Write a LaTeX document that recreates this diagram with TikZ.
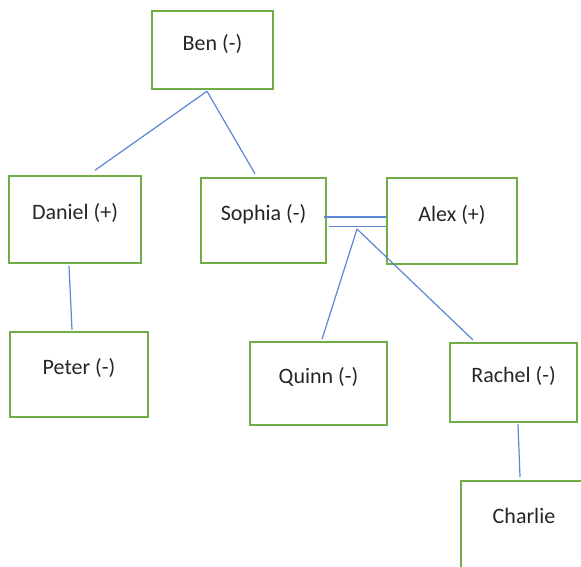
\documentclass[tikz,border=0pt]{standalone}
\usepackage{fontspec}
\setmainfont{Carlito}
\definecolor{boxgreen}{HTML}{70AD47}
\definecolor{linkblue}{HTML}{5A86D3}
\definecolor{txt}{HTML}{262626}
\begin{document}
\begin{tikzpicture}[x=1pt,y=-1pt,
  person/.style={draw=boxgreen, line width=2.5pt, rectangle, inner sep=0pt,
    text=txt, font=\fontsize{22}{26}\selectfont, text height=12pt, text depth=12pt},
  link/.style={draw=linkblue, line width=1.2pt}]
\useasboundingbox (0,0) rectangle (581,566);
\clip (0,0) rectangle (581,566);
\node[person, minimum width=121pt, minimum height=78pt] (ben) at (212.5,50) {Ben (-)};
\node[person, minimum width=132pt, minimum height=87pt] (daniel) at (75,219.5) {Daniel (+)};
\node[person, minimum width=125pt, minimum height=85pt] (sophia) at (263.5,220.5) {Sophia (-)};
\node[person, minimum width=130pt, minimum height=86pt] (alex) at (452,221) {Alex (+)};
\node[person, minimum width=138pt, minimum height=85pt] (peter) at (79,374.5) {Peter (-)};
\node[person, minimum width=137pt, minimum height=83pt] (quinn) at (318.5,383.5) {Quinn (-)};
\node[person, minimum width=127pt, minimum height=79pt] (rachel) at (513.5,382.5) {Rachel (-)};
\node[person, minimum width=126pt, minimum height=100pt, text depth=28pt] (charlie) at (524,531) {Charlie};
\coordinate (kids) at (357,229);
\draw[link] ([xshift=-5.5pt,yshift=-1pt]ben.south) -- ([xshift=20pt,yshift=4.5pt]daniel.north);
\draw[link] ([xshift=-5.5pt,yshift=-1pt]ben.south) -- ([xshift=-8.5pt,yshift=3pt]sophia.north);
\draw[link] ([xshift=-6pt,yshift=-1.5pt]daniel.south) -- ([xshift=-7pt,yshift=1pt]peter.north);
\draw[link] ([xshift=-3pt,yshift=3.5pt]sophia.east) -- ([yshift=4pt]alex.west);
\draw[link] ([xshift=2pt,yshift=-6pt]sophia.east) -- ([yshift=-5.5pt]alex.west);
\draw[link] (kids) -- ([xshift=3.5pt,yshift=1.5pt]quinn.north);
\draw[link] (kids) -- ([xshift=24pt,yshift=2pt]rachel.north west);
\draw[link] ([xshift=4.5pt,yshift=-1pt]rachel.south) -- ([xshift=-4pt,yshift=3pt]charlie.north);
\end{tikzpicture}
\end{document}
